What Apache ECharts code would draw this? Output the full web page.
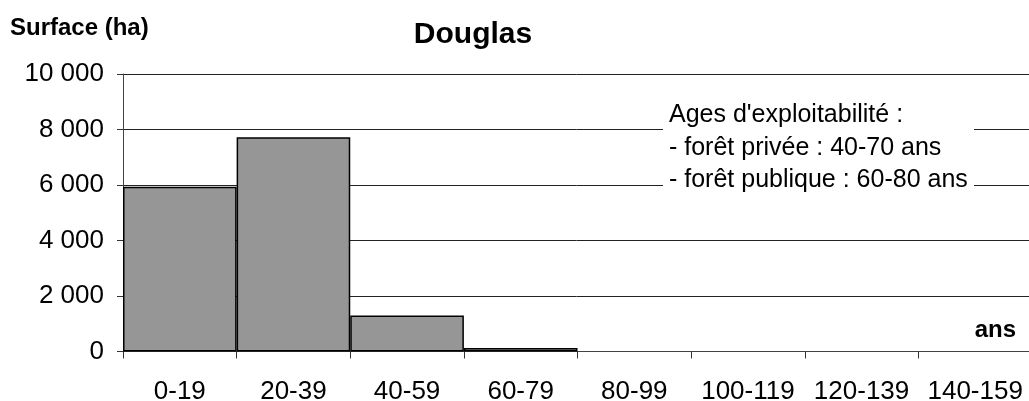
<!DOCTYPE html>
<html>
<head>
<meta charset="utf-8">
<script src="https://cdn.jsdelivr.net/npm/echarts@6/dist/echarts.min.js"></script>
<style>
html,body{margin:0;padding:0;background:#fff;}
#chart{width:1029px;height:401px;}
</style>
</head>
<body>
<div id="chart"></div>
<script>
var categories = ['0-19','20-39','40-59','60-79','80-99','100-119','120-139','140-159'];
var surface = [5940, 7720, 1300, 130, 0, 0, 0, 0];
var yTicks = [0, 2000, 4000, 6000, 8000, 10000];
var titleText = 'Douglas';
var yName = 'Surface (ha)';
var xName = 'ans';
var noteLines = ["Ages d'exploitabilité :", '- forêt privée : 40-70 ans', '- forêt publique : 60-80 ans'];

var FONT = '"Liberation Sans", Arial, sans-serif';
function fmt(v){ return String(v).replace(/\B(?=(\d{3})+(?!\d))/g, ' '); }

var chart = echarts.init(document.getElementById('chart'), null, {renderer:'canvas'});
var noteGraphics = noteLines.map(function(t, i){
  return {type:'text', x:669, y:115.5 + i*32.5, z:20,
    style:{text:t, font:'25px ' + FONT, fill:'#000', textVerticalAlign:'middle'}};
});
var barData = surface.map(function(v){
  return v === 0 ? {value:v, itemStyle:{borderWidth:0}} : v;
});
chart.setOption({
  animation:false,
  backgroundColor:'#fff',
  grid:{left:123, top:74, width:909, height:277.5, containLabel:false, outerBoundsMode:'none'},
  xAxis:{
    type:'category', data:categories,
    axisLine:{lineStyle:{color:'#444', width:1}},
    axisTick:{show:true, length:7, lineStyle:{color:'#333'}},
    axisLabel:{fontFamily:FONT, fontSize:26, color:'#000', margin:27, interval:0},
    splitLine:{show:false}
  },
  yAxis:{
    type:'value', min:yTicks[0], max:yTicks[yTicks.length-1], interval:2000,
    axisLine:{show:true, lineStyle:{color:'#444', width:1}},
    axisTick:{show:true, length:6, lineStyle:{color:'#333'}},
    axisLabel:{fontFamily:FONT, fontSize:26, color:'#000', margin:19, formatter:fmt},
    splitLine:{show:true, lineStyle:{color:'#222', width:1}}
  },
  series:[{
    type:'bar', data:barData, barCategoryGap:'0%',
    itemStyle:{color:'#969696', borderColor:'#000', borderWidth:1.5}
  }],
  graphic:[
    {type:'text', x:10, y:28, style:{text:yName, font:'bold 24px ' + FONT, fill:'#000', textVerticalAlign:'middle'}},
    {type:'text', x:473, y:35, style:{text:titleText, font:'bold 30px ' + FONT, fill:'#000', textAlign:'center', textVerticalAlign:'middle'}},
    {type:'text', x:1016, y:330, style:{text:xName, font:'bold 24px ' + FONT, fill:'#000', textAlign:'right', textVerticalAlign:'middle'}},
    {type:'rect', shape:{x:663, y:94, width:311, height:106}, style:{fill:'#fff'}, z:10}
  ].concat(noteGraphics)
});
</script>
</body>
</html>
